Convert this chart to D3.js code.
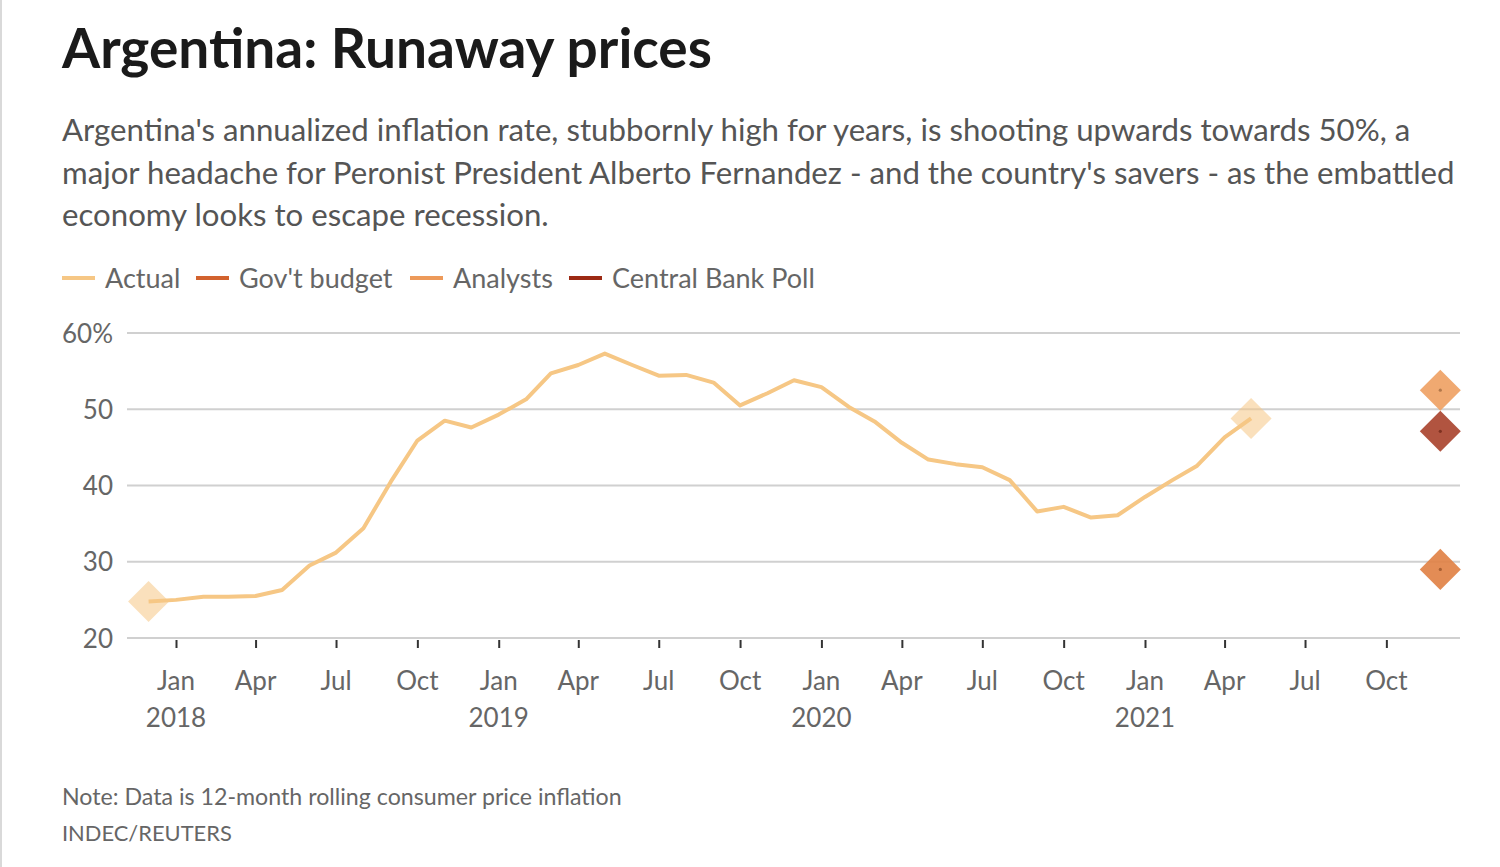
<!DOCTYPE html>
<html>
<head>
<meta charset="utf-8">
<script src="https://cdn.jsdelivr.net/npm/d3@7"></script>
<style>
  html, body { margin: 0; padding: 0; background: #fff; }
  svg { display: block; }
</style>
</head>
<body>
<svg id="chart" width="1500" height="867"></svg>
<script>
// ---------- DATA ----------
const actualMonths = [
  "2017-12","2018-01","2018-02","2018-03","2018-04","2018-05","2018-06","2018-07","2018-08","2018-09","2018-10","2018-11","2018-12",
  "2019-01","2019-02","2019-03","2019-04","2019-05","2019-06","2019-07","2019-08","2019-09","2019-10","2019-11","2019-12",
  "2020-01","2020-02","2020-03","2020-04","2020-05","2020-06","2020-07","2020-08","2020-09","2020-10","2020-11","2020-12",
  "2021-01","2021-02","2021-03","2021-04","2021-05"
];
const actualValues = [
  24.8,25.0,25.4,25.4,25.5,26.3,29.5,31.2,34.4,40.5,45.9,48.5,47.6,
  49.3,51.3,54.7,55.8,57.3,55.8,54.4,54.5,53.5,50.5,52.1,53.8,
  52.9,50.3,48.4,45.6,43.4,42.8,42.4,40.7,36.6,37.2,35.8,36.1,
  38.5,40.7,42.6,46.3,48.8
];
const forecastNames = ["Analysts","Central Bank Poll","Gov't budget"];
const forecastValues = [52.5, 47.1, 29.0];
const forecastMonth = "2021-12";

const legendNames = ["Actual","Gov't budget","Analysts","Central Bank Poll"];
const legendColors = ["#f6c785","#d2622e","#ed9a5a","#9c2a14"];
const forecastColors = {"Analysts":"#eea062","Central Bank Poll":"#a8412b","Gov't budget":"#e07f42"};

const yTicks = [20,30,40,50,60];
const xTickMonths = ["2018-01","2018-04","2018-07","2018-10","2019-01","2019-04","2019-07","2019-10",
                     "2020-01","2020-04","2020-07","2020-10","2021-01","2021-04","2021-07","2021-10"];
const monthNames = ["Jan","Feb","Mar","Apr","May","Jun","Jul","Aug","Sep","Oct","Nov","Dec"];

const titleText = "Argentina: Runaway prices";
const subtitleLines = [
  "Argentina's annualized inflation rate, stubbornly high for years, is shooting upwards towards 50%, a",
  "major headache for Peronist President Alberto Fernandez - and the country's savers - as the embattled",
  "economy looks to escape recession."
];
const noteText = "Note: Data is 12-month rolling consumer price inflation";
const sourceText = "INDEC/REUTERS";

// ---------- SETUP ----------
const parse = d3.timeParse("%Y-%m");
const svg = d3.select("#chart");
const FONT = "Lato, 'Open Sans', sans-serif";

// left border
svg.append("rect").attr("x",0).attr("y",0).attr("width",2).attr("height",867).attr("fill","#d9d9d9");

function fit(sel, w) {
  const cur = sel.node().getComputedTextLength();
  const fs = parseFloat(sel.attr("font-size"));
  sel.attr("font-size", fs * w / cur);
}

// Title
const title = svg.append("text").attr("x",62).attr("y",68)
  .attr("font-family",FONT).attr("font-weight",700).attr("font-size",48)
  .attr("fill","#1a1a1a").text(titleText);
fit(title, 650);

// Subtitle
const subBase = [141,184,226];
const subG = svg.append("g");
const subs = subtitleLines.map((t,i)=> subG.append("text").attr("x",62).attr("y",subBase[i])
    .attr("font-family",FONT).attr("font-size",30).attr("fill","#555").text(t));
fit(subs[1], 1393);
const subFs = parseFloat(subs[1].attr("font-size"));
subs.forEach(s=>s.attr("font-size",subFs));

// Scales
const x = d3.scaleTime().domain([parse("2018-01"), parse("2021-01")]).range([176,1145]);
const y = d3.scaleLinear().domain([20,60]).range([638,333]);

// Legend
const legX = [62,196,410,569];
const legG = svg.append("g");
legendNames.forEach((n,i)=>{
  legG.append("line").attr("x1",legX[i]).attr("x2",legX[i]+33).attr("y1",278).attr("y2",278)
    .attr("stroke",legendColors[i]).attr("stroke-width",4);
  legG.append("text").attr("x",legX[i]+43).attr("y",288)
    .attr("font-family",FONT).attr("font-size",27).attr("fill","#666").text(n);
});

// Gridlines + y labels
const yAxis = d3.axisLeft(y).tickValues(yTicks).tickSize(0).tickFormat(d=> d===60 ? "60%" : d);
const gy = svg.append("g").attr("transform","translate(113,0)").call(yAxis);
gy.select(".domain").remove();
gy.selectAll("text").attr("font-family",FONT).attr("font-size",26).attr("fill","#666").attr("dy","0.35em").attr("x",0);
const grid = svg.append("g");
grid.selectAll("line").data(yTicks).join("line")
  .attr("x1",127).attr("x2",1460).attr("y1",d=>y(d)).attr("y2",d=>y(d))
  .attr("stroke","#d0d0d0").attr("stroke-width",2);

// X axis
const xAxis = d3.axisBottom(x).tickValues(xTickMonths.map(parse)).tickSize(8).tickPadding(0).tickFormat("");
const gx = svg.append("g").attr("transform","translate(0,640)").call(xAxis);
gx.select(".domain").remove();
gx.selectAll(".tick line").attr("stroke","#333").attr("stroke-width",2);
const xl = svg.append("g");
xTickMonths.forEach(m=>{
  const d = parse(m);
  xl.append("text").attr("x",x(d)).attr("y",690).attr("text-anchor","middle")
    .attr("font-family",FONT).attr("font-size",26).attr("fill","#666").text(monthNames[d.getMonth()]);
  if (d.getMonth()===0) {
    xl.append("text").attr("x",x(d)).attr("y",727).attr("text-anchor","middle")
      .attr("font-family",FONT).attr("font-size",26).attr("fill","#666").text(d.getFullYear());
  }
});

// Diamond helper
const diamond = d3.symbol().type(d3.symbolSquare).size(29*29);

// Actual line
const pts = actualMonths.map((m,i)=>({d:parse(m), v:actualValues[i]}));
const first = pts[0], last = pts[pts.length-1];
[first,last].forEach(p=>{
  svg.append("path").attr("d",diamond())
    .attr("transform",`translate(${x(p.d)},${y(p.v)}) rotate(45)`)
    .attr("fill","#f6c785").attr("opacity",0.55);
});
svg.append("path").datum(pts)
  .attr("d", d3.line().x(p=>x(p.d)).y(p=>y(p.v)))
  .attr("fill","none").attr("stroke","#f6c785").attr("stroke-width",4).attr("stroke-linejoin","round");

// Forecast diamonds
const fd = parse(forecastMonth);
forecastNames.forEach((n,i)=>{
  svg.append("path").attr("d",diamond())
    .attr("transform",`translate(${x(fd)},${y(forecastValues[i])}) rotate(45)`)
    .attr("fill",forecastColors[n]).attr("opacity",0.9);
  svg.append("circle").attr("cx",x(fd)).attr("cy",y(forecastValues[i])).attr("r",1.6)
    .attr("fill", d3.color(forecastColors[n]).darker(0.8));
});

// Notes
svg.append("text").attr("x",62).attr("y",805).attr("font-family",FONT).attr("font-size",23)
  .attr("fill","#666").text(noteText).call(s=>fit(s,560));
svg.append("text").attr("x",62).attr("y",841).attr("font-family",FONT).attr("font-size",23)
  .attr("fill","#666").text(sourceText).call(s=>fit(s,170));
</script>
</body>
</html>
